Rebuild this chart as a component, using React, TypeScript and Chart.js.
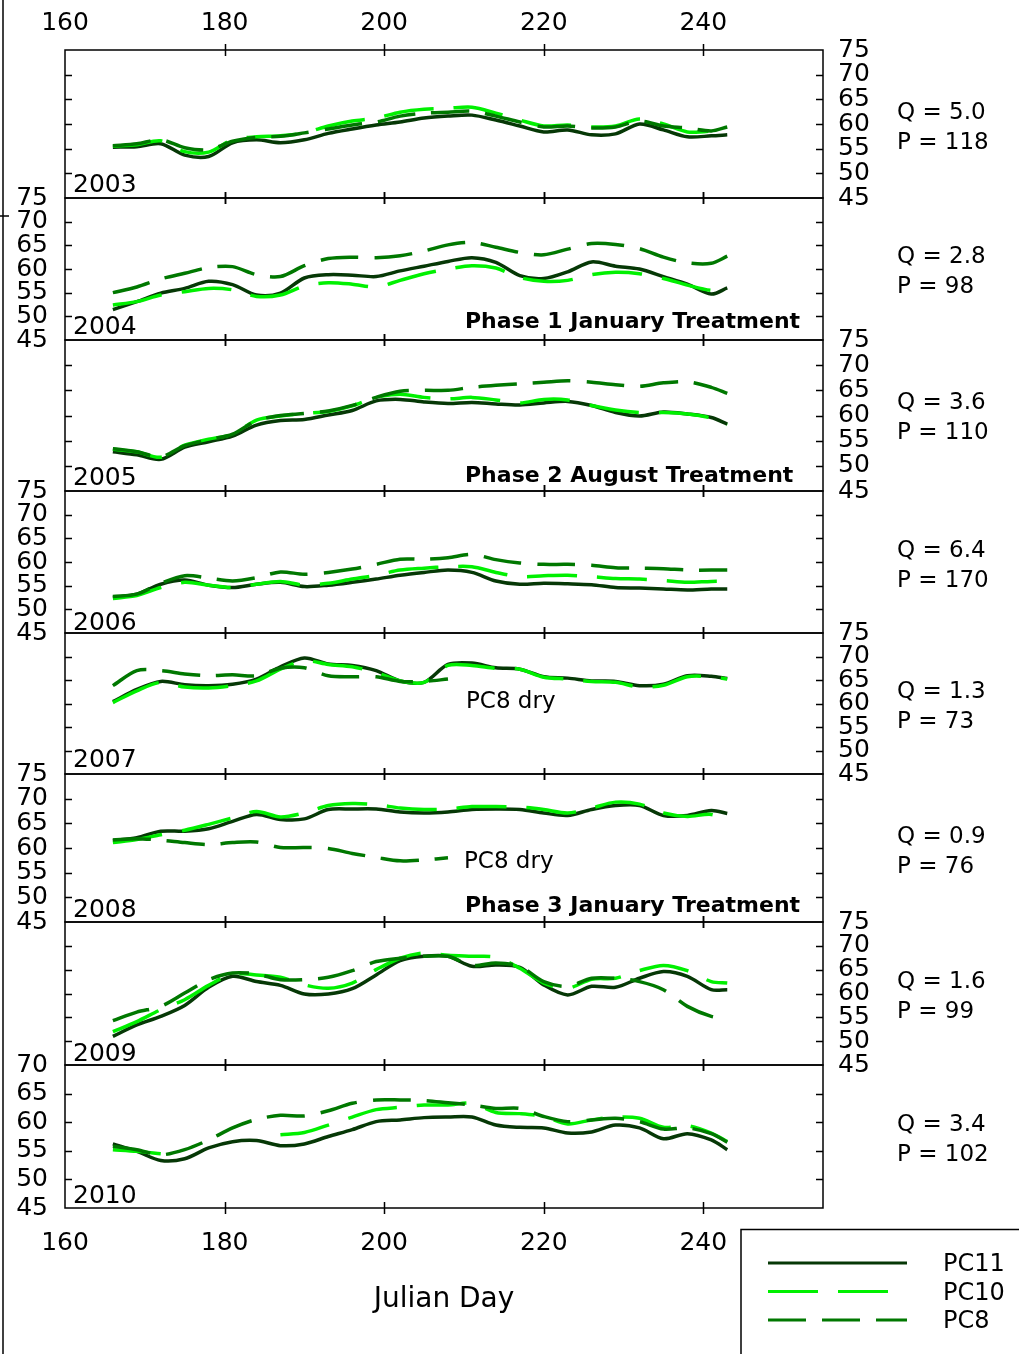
import React, { useEffect, useRef } from 'react';
import { Chart, registerables } from 'chart.js';

Chart.register(...registerables);

const W = 1019;
const H = 1354;
const FONT = '"DejaVu Sans", "Liberation Sans", sans-serif';

// ---------- data ----------
const days = [166, 169, 172, 175, 178, 181, 184, 187, 190, 193, 196, 199, 202, 205, 208, 211, 214, 217, 220, 223, 226, 229, 232, 235, 238, 241, 243];
const xTickValues = [160, 180, 200, 220, 240];
const years = ['2003', '2004', '2005', '2006', '2007', '2008', '2009', '2010'];
const qLabels = ['Q = 5.0', 'Q = 2.8', 'Q = 3.6', 'Q = 6.4', 'Q = 1.3', 'Q = 0.9', 'Q = 1.6', 'Q = 3.4'];
const pLabels = ['P = 118', 'P = 98', 'P = 110', 'P = 170', 'P = 73', 'P = 76', 'P = 99', 'P = 102'];
const seriesNames = ['PC11', 'PC10', 'PC8'];

const pc11_2003 = [55.3, 55.4, 56.0, 53.7, 53.4, 56.2, 56.8, 56.2, 56.8, 58.1, 59.0, 59.8, 60.4, 61.2, 61.6, 61.8, 60.8, 59.6, 58.4, 58.8, 57.8, 58.0, 60.0, 58.8, 57.4, 57.6, 57.8];
const pc10_2003 = [55.5, 55.8, 56.6, 54.4, 54.3, 56.8, 57.4, 57.6, 58.2, 59.6, 60.6, 61.2, 62.4, 63.0, 63.2, 63.4, 62.2, 60.8, 59.6, 59.8, 59.4, 59.6, 61.0, 60.0, 58.4, 58.6, 59.2];
const pc8_2003 = [55.6, 56.0, 56.8, 55.2, 54.8, 56.5, 57.3, 57.5, 58.2, 59.0, 59.8, 60.4, 61.6, 62.2, 62.4, 62.6, 61.6, 60.4, 59.4, 59.6, 59.2, 59.4, 60.6, 59.6, 59.2, 58.6, 59.4];

const pc11_2004 = [51.4, 53.1, 54.9, 55.9, 57.4, 56.7, 54.5, 54.9, 58.1, 58.8, 58.7, 58.4, 59.6, 60.6, 61.6, 62.4, 61.4, 58.6, 58.0, 59.4, 61.5, 60.6, 60.0, 58.4, 56.8, 54.7, 56.0];
const pc10_2004 = [52.4, 53.1, 54.5, 55.2, 55.9, 55.6, 54.2, 54.5, 56.4, 57.1, 56.8, 56.2, 57.6, 59.0, 60.0, 60.7, 60.2, 58.2, 57.4, 57.6, 58.8, 59.3, 59.0, 58.0, 56.6, 55.5, 55.9];
const pc8_2004 = [55.0, 56.2, 57.9, 59.1, 60.3, 60.5, 58.8, 58.4, 60.7, 62.2, 62.5, 62.4, 62.8, 63.8, 65.1, 65.6, 64.6, 63.5, 63.0, 64.2, 65.4, 65.2, 64.3, 62.5, 61.3, 61.2, 62.7];

const pc11_2005 = [52.8, 52.2, 51.3, 53.7, 54.8, 55.9, 58.1, 59.0, 59.2, 60.1, 61.0, 62.9, 63.2, 62.7, 62.4, 62.6, 62.3, 62.1, 62.5, 62.8, 62.0, 60.6, 59.9, 60.7, 60.3, 59.6, 58.3];
const pc10_2005 = [53.3, 52.8, 51.7, 54.1, 55.3, 56.3, 59.1, 59.9, 60.4, 60.8, 61.9, 63.6, 64.2, 63.6, 63.3, 63.6, 63.1, 62.5, 63.2, 63.1, 62.0, 61.1, 60.6, 60.6, 60.3, 59.5, 58.2];
const pc8_2005 = [53.4, 52.8, 51.8, 54.0, 55.2, 56.3, 59.0, 60.0, 60.4, 60.9, 62.0, 63.6, 64.8, 65.0, 65.0, 65.6, 66.0, 66.3, 66.6, 66.9, 66.6, 66.1, 65.8, 66.5, 66.7, 65.6, 64.4];

const pc11_2006 = [52.5, 53.2, 55.3, 56.2, 55.1, 54.6, 55.3, 55.7, 54.8, 55.1, 55.7, 56.4, 57.2, 57.8, 58.3, 57.8, 56.0, 55.3, 55.5, 55.4, 55.2, 54.6, 54.5, 54.3, 54.1, 54.3, 54.3];
const pc10_2006 = [52.3, 52.9, 54.6, 55.7, 55.1, 54.6, 55.3, 55.9, 55.1, 55.5, 56.4, 57.2, 58.3, 58.7, 59.0, 59.0, 57.8, 56.9, 57.1, 57.2, 56.9, 56.5, 56.4, 56.1, 55.7, 55.9, 55.9];
const pc8_2006 = [52.7, 53.2, 55.5, 57.1, 56.6, 56.0, 56.7, 57.9, 57.4, 57.8, 58.5, 59.5, 60.6, 60.6, 60.9, 61.6, 60.5, 59.8, 59.5, 59.5, 59.3, 58.8, 58.7, 58.6, 58.3, 58.3, 58.3];

const pc11_2007 = [60.4, 63.0, 64.7, 64.0, 63.8, 64.1, 65.2, 67.8, 69.7, 68.4, 68.1, 67.0, 64.8, 64.5, 68.3, 68.6, 67.6, 67.3, 65.7, 65.4, 64.8, 64.7, 63.8, 64.1, 65.9, 65.8, 65.3];
const pc10_2007 = [60.2, 62.7, 64.5, 63.5, 63.3, 63.8, 64.8, 67.3, 69.1, 68.3, 67.8, 66.6, 64.8, 64.5, 68.1, 68.1, 67.5, 67.3, 65.6, 65.2, 64.7, 64.5, 63.5, 63.9, 65.7, 65.7, 65.2];
const pc8_2007 = [63.8, 67.0, 67.0, 66.3, 65.9, 66.1, 65.9, 67.5, 67.6, 65.9, 65.7, 65.7, 64.7, 64.7, 65.2, null, null, null, null, null, null, null, null, null, null, null, null];

const pc11_2008 = [61.5, 62.1, 63.4, 63.4, 63.9, 65.4, 66.8, 65.8, 65.9, 67.8, 67.9, 67.9, 67.3, 67.1, 67.3, 67.8, 67.9, 67.8, 67.1, 66.6, 67.8, 68.6, 68.6, 66.6, 66.6, 67.6, 67.0];
const pc10_2008 = [61.1, 61.7, 62.7, 63.6, 64.8, 66.1, 67.4, 66.3, 67.1, 68.6, 69.0, 68.8, 68.1, 67.8, 67.9, 68.4, 68.4, 68.3, 67.8, 67.1, 68.1, 69.3, 68.9, 67.1, 66.4, 66.8, 65.5];
const pc8_2008 = [61.6, 61.9, 61.6, 61.1, 60.7, 61.1, 61.2, 60.1, 60.1, 59.9, 58.9, 58.1, 57.4, 57.6, 58.0, null, null, null, null, null, null, null, null, null, null, null, null];

const pc11_2009 = [51.0, 53.4, 55.2, 57.5, 61.3, 63.6, 62.5, 61.7, 59.9, 59.9, 61.0, 63.9, 66.9, 67.8, 67.8, 65.7, 66.0, 65.5, 61.8, 59.7, 61.5, 61.3, 63.2, 64.6, 63.6, 60.8, 60.8];
const pc10_2009 = [52.0, 54.1, 56.6, 58.7, 61.7, 64.1, 63.9, 63.4, 61.8, 61.1, 62.2, 65.0, 67.4, 68.5, 68.0, 67.8, 67.6, 65.3, 62.2, 61.1, 63.0, 63.2, 64.8, 65.9, 64.8, 62.5, 62.2];
const pc8_2009 = [54.3, 56.1, 57.3, 60.1, 62.9, 64.3, 64.1, 62.9, 62.9, 63.4, 64.8, 66.7, 67.4, 67.8, 67.8, 65.9, 66.4, 65.7, 62.5, 61.5, 63.2, 63.2, 62.5, 60.8, 57.3, 55.2, 54.8];

const pc11_2010 = [56.2, 54.9, 53.3, 53.6, 55.5, 56.6, 56.8, 55.9, 56.2, 57.5, 58.7, 60.1, 60.4, 60.8, 60.9, 60.9, 59.5, 59.1, 59.0, 58.1, 58.3, 59.5, 59.0, 57.1, 58.0, 56.9, 55.2];
const pc10_2010 = [55.2, 54.9, 54.5, null, null, null, null, 57.8, 58.2, 59.5, 60.9, 62.2, 62.6, 63.0, 63.0, 63.3, 61.7, 61.5, 61.0, 59.7, 60.4, 60.9, 60.7, 59.1, 59.4, 58.1, 56.6];
const pc8_2010 = [55.8, 55.2, 54.3, 55.2, 56.9, 59.0, 60.5, 61.2, 61.1, 62.0, 63.3, 63.9, 63.9, 63.8, 63.4, 63.0, 62.4, 62.4, 61.0, 60.1, 60.4, 60.7, 60.1, 58.8, 59.0, 58.0, 56.5];

const pc11Series = [pc11_2003, pc11_2004, pc11_2005, pc11_2006, pc11_2007, pc11_2008, pc11_2009, pc11_2010];
const pc10Series = [pc10_2003, pc10_2004, pc10_2005, pc10_2006, pc10_2007, pc10_2008, pc10_2009, pc10_2010];
const pc8Series = [pc8_2003, pc8_2004, pc8_2005, pc8_2006, pc8_2007, pc8_2008, pc8_2009, pc8_2010];
const yMins = [45, 45, 45, 45, 45, 45, 45, 45];
const yMaxs = [75, 75, 75, 75, 75, 75, 75, 70];

// ---------- layout / style ----------
const panelTops = [50, 198, 340, 491, 633, 774, 922, 1065];
const panelBottoms = [198, 340, 491, 633, 774, 922, 1065, 1208];
const panelSides = ['right', 'left', 'right', 'left', 'right', 'left', 'right', 'left'];
const PLOT_LEFT = 65;
const PLOT_RIGHT = 823;
const COLORS = ['#063806', '#00f000', '#007800'];
const DASHES: number[][] = [[], [50, 20], [38, 16]];

const framePlugin = {
  id: 'frame',
  afterDatasetsDraw(chart: any) {
    const { ctx, chartArea: a, scales } = chart;
    const xs = scales.x;
    const ys = scales.y;
    ctx.save();
    ctx.strokeStyle = '#000';
    ctx.lineWidth = 1.5;
    ctx.strokeRect(a.left, a.top, a.right - a.left, a.bottom - a.top);
    ctx.beginPath();
    for (const v of xTickValues) {
      if (v <= xs.min || v >= xs.max) continue;
      const px = Math.round(xs.getPixelForValue(v)) + 0.5;
      ctx.moveTo(px, a.top - 6);
      ctx.lineTo(px, a.top + 6);
      ctx.moveTo(px, a.bottom - 6);
      ctx.lineTo(px, a.bottom + 6);
    }
    for (const t of ys.ticks) {
      if (t.value <= ys.min || t.value >= ys.max) continue;
      const py = Math.round(ys.getPixelForValue(t.value)) + 0.5;
      ctx.moveTo(a.left, py);
      ctx.lineTo(a.left + 7, py);
      ctx.moveTo(a.right - 7, py);
      ctx.lineTo(a.right, py);
    }
    ctx.stroke();
    ctx.restore();
  },
};

function PanelChart({ idx }: { idx: number }) {
  const ref = useRef<HTMLCanvasElement>(null);
  useEffect(() => {
    const n = years.length;
    const first = idx === 0;
    const last = idx === n - 1;
    const side = panelSides[idx];
    const top = panelTops[idx];
    const bottom = panelBottoms[idx];
    const seriesData = [pc11Series[idx], pc10Series[idx], pc8Series[idx]];
    const datasets = seriesData.map((vals, s) => ({
      label: seriesNames[s],
      data: vals.map((v, k) => ({ x: days[k], y: v })),
      borderColor: COLORS[s],
      backgroundColor: COLORS[s],
      borderWidth: 3.5,
      borderDash: DASHES[s],
      pointRadius: 0,
      tension: 0.3,
      fill: false,
      spanGaps: false,
      order: 3 - s,
    }));
    const tickFont = { family: FONT, size: 25 };
    const chart = new Chart(ref.current as HTMLCanvasElement, {
      type: 'line',
      data: { datasets },
      options: {
        responsive: false,
        maintainAspectRatio: false,
        animation: false,
        events: [],
        layout: {
          padding: {
            top: first ? 0 : top,
            bottom: last ? 0 : H - bottom,
            left: side === 'right' ? PLOT_LEFT : 0,
            right: side === 'left' ? W - PLOT_RIGHT : 0,
          },
        },
        plugins: { legend: { display: false }, tooltip: { enabled: false } },
        scales: {
          x: {
            type: 'linear',
            min: 160,
            max: 255,
            position: first ? 'top' : 'bottom',
            display: first || last,
            afterBuildTicks: (s: any) => {
              s.ticks = xTickValues.map((v) => ({ value: v }));
            },
            afterFit: first || last ? (s: any) => { s.height = first ? top : H - bottom; } : undefined,
            grid: { display: false, drawTicks: false },
            border: { display: false },
            ticks: { color: '#000', font: tickFont, padding: first ? 12 : 20, maxRotation: 0, autoSkip: false },
          },
          y: {
            type: 'linear',
            position: side,
            min: yMins[idx],
            max: yMaxs[idx],
            afterFit: (s: any) => { s.width = side === 'left' ? PLOT_LEFT : W - PLOT_RIGHT; },
            grid: { display: false, drawTicks: false },
            border: { display: false },
            ticks: { stepSize: 5, autoSkip: false, color: '#000', font: tickFont, padding: side === 'left' ? 17 : 15 },
          },
        },
      } as any,
      plugins: [framePlugin],
    });
    return () => chart.destroy();
  }, [idx]);
  return (
    <canvas
      ref={ref}
      width={W}
      height={H}
      style={{ position: 'absolute', left: 0, top: 0, width: W, height: H }}
    />
  );
}

function Txt({ x, y, text, size, bold, anchor }: { x: number; y: number; text: string; size: number; bold?: boolean; anchor?: 'left' | 'center' | 'right' }) {
  const tx = anchor === 'center' ? '-50%' : anchor === 'right' ? '-100%' : '0';
  return (
    <div
      style={{
        position: 'absolute',
        left: x,
        top: y - size / 2,
        height: size,
        lineHeight: `${size}px`,
        fontSize: size,
        fontFamily: FONT,
        fontWeight: bold ? 'bold' : 'normal',
        color: '#000',
        whiteSpace: 'nowrap',
        transform: `translateX(${tx})`,
      }}
    >
      {text}
    </div>
  );
}

const yearLabelY = [183, 325, 476, 621, 758, 908, 1052, 1194];
const qY = [111, 255, 401, 549, 690, 835, 980, 1123];

export default function App() {
  return (
    <div style={{ position: 'absolute', left: 0, top: 0, width: W, height: H, background: '#fff', overflow: 'hidden' }}>
      {years.map((_, i) => (
        <PanelChart key={i} idx={i} />
      ))}
      <svg width={W} height={H} style={{ position: 'absolute', left: 0, top: 0 }}>
        <line x1={3} y1={0} x2={3} y2={H} stroke="#000" strokeWidth={1.5} />
        <line x1={0} y1={216} x2={9} y2={216} stroke="#000" strokeWidth={1.5} />
        <polyline points={`741,${H} 741,1229.5 ${W},1229.5`} fill="none" stroke="#000" strokeWidth={1.5} />
        {seriesNames.map((name, s) => (
          <line
            key={name}
            x1={768}
            x2={907}
            y1={1263 + s * 28.5}
            y2={1263 + s * 28.5}
            stroke={COLORS[s]}
            strokeWidth={3}
            strokeDasharray={DASHES[s].length ? DASHES[s].join(' ') : undefined}
          />
        ))}
      </svg>
      {years.map((yr, i) => (
        <Txt key={'y' + yr} x={73} y={yearLabelY[i]} text={yr} size={25} />
      ))}
      {qLabels.map((q, i) => (
        <Txt key={'q' + i} x={897} y={qY[i]} text={q} size={23} />
      ))}
      {pLabels.map((p, i) => (
        <Txt key={'p' + i} x={897} y={qY[i] + 30} text={p} size={23} />
      ))}
      <Txt x={465} y={321} text="Phase 1 January Treatment" size={22} bold />
      <Txt x={465} y={475} text="Phase 2 August Treatment" size={22} bold />
      <Txt x={465} y={905} text="Phase 3 January Treatment" size={22} bold />
      <Txt x={466} y={700} text="PC8 dry" size={23} />
      <Txt x={464} y={860} text="PC8 dry" size={23} />
      <Txt x={444} y={1298} text="Julian Day" size={28} anchor="center" />
      {seriesNames.map((name, s) => (
        <Txt key={'l' + name} x={943} y={1263 + s * 28.5} text={name} size={24} />
      ))}
    </div>
  );
}
